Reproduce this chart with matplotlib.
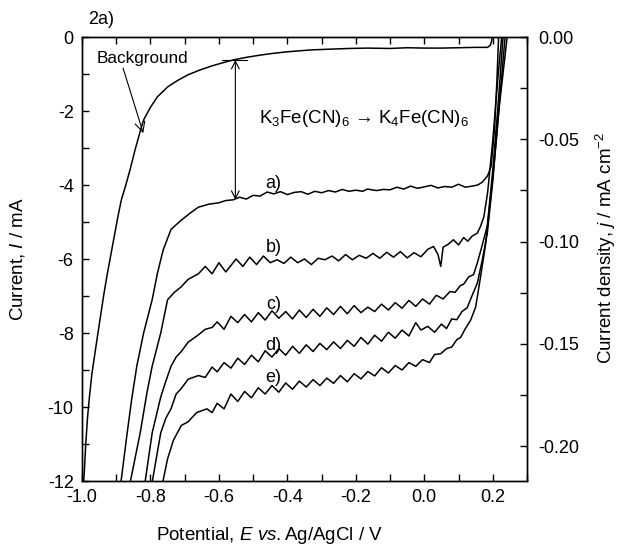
import matplotlib
matplotlib.use("Agg")
import matplotlib.pyplot as plt
from matplotlib.ticker import MultipleLocator, FormatStrFormatter

plt.rcParams.update({
    "font.family": ["Liberation Sans", "DejaVu Sans"],
    "font.size": 13,
    "axes.unicode_minus": False,
    "mathtext.fontset": "custom",
    "mathtext.rm": "Liberation Sans",
    "mathtext.it": "Liberation Sans:italic",
    "axes.linewidth": 1.0,
})

# ---- data (E / V vs Ag/AgCl, I / mA) ----
bg_E = [-0.997, -0.993, -0.989, -0.984, -0.978, -0.971, -0.963, -0.955, -0.946, -0.937,
        -0.927, -0.916, -0.905, -0.895, -0.885, -0.872, -0.86, -0.845, -0.83, -0.82,
        -0.80, -0.78, -0.75, -0.72, -0.69, -0.655, -0.62, -0.59, -0.558, -0.52,
        -0.48, -0.44, -0.40, -0.333, -0.28, -0.22, -0.166, -0.10, -0.05, 0.0,
        0.05, 0.10, 0.15, 0.185, 0.193, 0.197, 0.199]
bg_I = [-12.3, -11.7, -11.0, -10.3, -9.7, -9.1, -8.6, -8.1, -7.55, -7.0,
        -6.45, -5.9, -5.35, -4.85, -4.4, -4.0, -3.6, -3.05, -2.55, -2.24,
        -1.9, -1.62, -1.35, -1.17, -1.02, -0.89, -0.78, -0.70, -0.62, -0.55,
        -0.49, -0.44, -0.40, -0.35, -0.33, -0.31, -0.30, -0.31, -0.29, -0.30,
        -0.30, -0.29, -0.28, -0.28, -0.22, -0.10, 0.3]

a_E = [-0.89, -0.868, -0.855, -0.84, -0.82, -0.795, -0.78, -0.763, -0.74, -0.71,
       -0.684, -0.66, -0.63, -0.60, -0.58, -0.558, -0.54, -0.52, -0.50, -0.48,
       -0.459, -0.44, -0.42, -0.40, -0.38, -0.36, -0.34, -0.32, -0.30, -0.28,
       -0.26, -0.24, -0.22, -0.20, -0.18, -0.166, -0.14, -0.12, -0.10, -0.08,
       -0.06, -0.04, -0.02, 0.0, 0.02, 0.04, 0.06, 0.08, 0.10, 0.12,
       0.14, 0.156, 0.17, 0.185, 0.195, 0.205, 0.212, 0.217, 0.22]
a_I = [-12.3, -10.7, -9.8, -8.9, -8.0, -7.1, -6.4, -5.76, -5.2, -4.95,
       -4.76, -4.6, -4.52, -4.48, -4.42, -4.40, -4.33, -4.38, -4.28, -4.30,
       -4.19, -4.24, -4.18, -4.26, -4.20, -4.18, -4.25, -4.17, -4.21, -4.15,
       -4.19, -4.12, -4.17, -4.14, -4.17, -4.11, -4.15, -4.12, -4.13, -4.06,
       -4.11, -4.03, -4.09, -4.05, -4.01, -4.08, -4.04, -4.06, -3.98, -4.06,
       -4.03, -4.00, -3.92, -3.75, -3.5, -2.5, -1.2, 0.0, 0.6]

b_E = [-0.865, -0.83, -0.81, -0.795, -0.77, -0.75, -0.73, -0.71, -0.69, -0.66,
       -0.64, -0.62, -0.60, -0.58, -0.567, -0.55, -0.53, -0.51, -0.49, -0.47,
       -0.45, -0.43, -0.41, -0.39, -0.37, -0.35, -0.33, -0.31, -0.29, -0.27,
       -0.25, -0.23, -0.21, -0.19, -0.17, -0.15, -0.13, -0.11, -0.09, -0.07,
       -0.05, -0.03, -0.01, 0.01, 0.027, 0.04, 0.048, 0.055, 0.07, 0.085,
       0.10, 0.115, 0.127, 0.14, 0.155, 0.165, 0.174, 0.185, 0.20, 0.215, 0.226, 0.23]
b_I = [-12.3, -10.7, -9.6, -8.9, -8.0, -7.1, -6.9, -6.75, -6.55, -6.4,
       -6.2, -6.4, -6.1, -6.35, -6.2, -6.0, -6.2, -5.95, -6.15, -5.92,
       -6.1, -6.02, -6.12, -5.95, -6.1, -6.0, -6.15, -5.98, -6.02, -5.92,
       -6.05, -5.88, -6.02, -5.9, -5.98, -5.85, -5.98, -5.82, -5.95, -5.8,
       -5.97, -5.83, -5.94, -5.74, -5.66, -5.88, -6.2, -5.68, -5.6, -5.48,
       -5.62, -5.42, -5.52, -5.38, -5.3, -5.1, -4.86, -4.2, -2.8, -1.1, 0.0, 0.5]

c_E = [-0.82, -0.795, -0.77, -0.755, -0.74, -0.725, -0.71, -0.69, -0.66, -0.64,
       -0.62, -0.605, -0.585, -0.565, -0.545, -0.525, -0.505, -0.485, -0.465, -0.445,
       -0.425, -0.405, -0.385, -0.365, -0.345, -0.325, -0.305, -0.285, -0.265, -0.245,
       -0.225, -0.205, -0.185, -0.165, -0.145, -0.125, -0.105, -0.085, -0.065, -0.045,
       -0.025, -0.005, 0.015, 0.035, 0.055, 0.075, 0.09, 0.105, 0.115, 0.13,
       0.144, 0.155, 0.17, 0.184, 0.20, 0.215, 0.23, 0.235]
c_I = [-12.3, -10.7, -9.73, -9.3, -8.9, -8.65, -8.5, -8.25, -8.05, -7.9,
       -7.85, -7.7, -7.9, -7.55, -7.72, -7.5, -7.7, -7.45, -7.65, -7.4,
       -7.6, -7.42, -7.62, -7.38, -7.58, -7.36, -7.55, -7.32, -7.5, -7.28,
       -7.48, -7.26, -7.45, -7.3, -7.42, -7.22, -7.38, -7.18, -7.33, -7.12,
       -7.28, -7.08, -7.22, -6.98, -7.08, -6.88, -6.9, -6.72, -6.68, -6.48,
       -6.42, -6.1, -5.6, -5.1, -3.6, -1.9, 0.0, 0.5]

d_E = [-0.80, -0.77, -0.755, -0.74, -0.725, -0.71, -0.69, -0.66, -0.64, -0.62,
       -0.605, -0.585, -0.565, -0.545, -0.525, -0.505, -0.485, -0.465, -0.445, -0.425,
       -0.405, -0.385, -0.365, -0.345, -0.325, -0.305, -0.285, -0.265, -0.245, -0.225,
       -0.205, -0.185, -0.165, -0.145, -0.125, -0.105, -0.085, -0.065, -0.045, -0.025,
       -0.01, 0.01, 0.03, 0.05, 0.065, 0.08, 0.095, 0.11, 0.125, 0.14,
       0.155, 0.17, 0.184, 0.20, 0.22, 0.236, 0.24]
d_I = [-12.3, -10.7, -10.3, -10.05, -9.65, -9.5, -9.25, -9.15, -9.2, -8.92,
       -9.05, -8.8, -8.95, -8.68, -8.85, -8.6, -8.78, -8.48, -8.65, -8.42,
       -8.6, -8.36, -8.55, -8.32, -8.5, -8.28, -8.45, -8.24, -8.42, -8.2,
       -8.36, -8.12, -8.3, -8.06, -8.22, -7.98, -8.14, -7.92, -8.08, -7.72,
       -7.92, -7.82, -7.98, -7.76, -7.88, -7.62, -7.64, -7.42, -7.32, -6.98,
       -6.65, -6.0, -5.3, -3.9, -1.7, 0.0, 0.5]

e_E = [-0.77, -0.75, -0.733, -0.71, -0.69, -0.665, -0.635, -0.62, -0.605, -0.585,
       -0.565, -0.545, -0.525, -0.505, -0.485, -0.465, -0.445, -0.425, -0.405, -0.385,
       -0.365, -0.345, -0.325, -0.305, -0.285, -0.265, -0.245, -0.225, -0.205, -0.185,
       -0.165, -0.145, -0.125, -0.105, -0.085, -0.065, -0.045, -0.025, -0.005, 0.015,
       0.03, 0.048, 0.065, 0.08, 0.095, 0.106, 0.12, 0.135, 0.15, 0.164,
       0.179, 0.20, 0.22, 0.242, 0.246]
e_I = [-12.3, -11.4, -10.9, -10.5, -10.4, -10.15, -10.05, -10.15, -9.9, -10.05,
       -9.65, -9.85, -9.58, -9.75, -9.48, -9.65, -9.42, -9.6, -9.35, -9.52,
       -9.3, -9.46, -9.26, -9.42, -9.22, -9.36, -9.15, -9.32, -9.1, -9.24,
       -9.04, -9.16, -8.94, -9.08, -8.88, -9.0, -8.8, -8.9, -8.72, -8.8,
       -8.58, -8.56, -8.42, -8.38, -8.18, -8.12, -7.88, -7.66, -7.3, -6.5,
       -5.6, -3.8, -1.8, 0.0, 0.5]

curves = [(bg_E, bg_I), (a_E, a_I), (b_E, b_I), (c_E, c_I), (d_E, d_I), (e_E, e_I)]
curve_labels = ["a)", "b)", "c)", "d)", "e)"]
label_I = [-3.95, -5.7, -7.24, -8.35, -9.19]
AREA = 55.3  # cm^2, current -> current density

fig = plt.figure(figsize=(6.19, 5.52), dpi=100)
ax = fig.add_axes([82 / 619, 71 / 552, 445 / 619, 444 / 552])

for E, I in curves:
    ax.plot(E, I, color="black", lw=1.1)

ax.set_xlim(-1.0, 0.3)
ax.set_ylim(-12, 0)
ax.xaxis.set_major_locator(MultipleLocator(0.2))
ax.xaxis.set_minor_locator(MultipleLocator(0.1))
ax.xaxis.set_major_formatter(FormatStrFormatter("%.1f"))
ax.yaxis.set_major_locator(MultipleLocator(2))
ax.yaxis.set_minor_locator(MultipleLocator(1))
ax.tick_params(which="both", direction="in", top=True, right=False, length=5, width=1.0)
ax.tick_params(which="major", pad=6)

ax2 = ax.twinx()
ax2.set_ylim(-12 / AREA, 0)
ax2.yaxis.set_major_locator(MultipleLocator(0.05))
ax2.yaxis.set_minor_locator(MultipleLocator(0.025))
ax2.yaxis.set_major_formatter(FormatStrFormatter("%.2f"))
ax2.tick_params(which="both", direction="in", length=5, width=1.0)
ax2.tick_params(which="major", pad=8)

# labels
fig.text(270 / 619, 1 - 536 / 552, r"Potential, $\mathit{E\ vs.}$Ag/AgCl / V",
         ha="center", va="center", fontsize=13.5)
fig.text(18 / 619, 1 - 259 / 552, r"Current, $\mathit{I}$ / mA", rotation=90,
         ha="center", va="center", fontsize=13.5)
fig.text(606 / 619, 1 - 248 / 552, r"Current density, $\mathit{j}$ / mA cm$^{-2}$",
         rotation=90, ha="center", va="center", fontsize=13.5)
fig.text(88 / 619, 1 - 20 / 552, "2a)", ha="left", va="center")

# annotations
for lab, yl in zip(curve_labels, label_I):
    ax.text(-0.441, yl, lab, ha="center", va="center")
ax.text(-0.956, -0.58, "Background", ha="left", va="center", fontsize=12.3)
ax.annotate("", xy=(-0.821, -2.6), xytext=(-0.88, -0.84),
            arrowprops=dict(arrowstyle="->", lw=0.8, color="black",
                            shrinkA=0, shrinkB=0, mutation_scale=18))
ax.annotate("", xy=(-0.552, -4.4), xytext=(-0.552, -0.62),
            arrowprops=dict(arrowstyle="<->", lw=0.8, color="black",
                            shrinkA=0, shrinkB=0, mutation_scale=14))
ax.plot([-0.59, -0.517], [-0.62, -0.62], color="black", lw=0.8)
ax.text(-0.482, -2.19, r"K$_3$Fe(CN)$_6$ → K$_4$Fe(CN)$_6$", ha="left", va="center",
        fontsize=13.5)

fig.savefig("out.png", dpi=100)
